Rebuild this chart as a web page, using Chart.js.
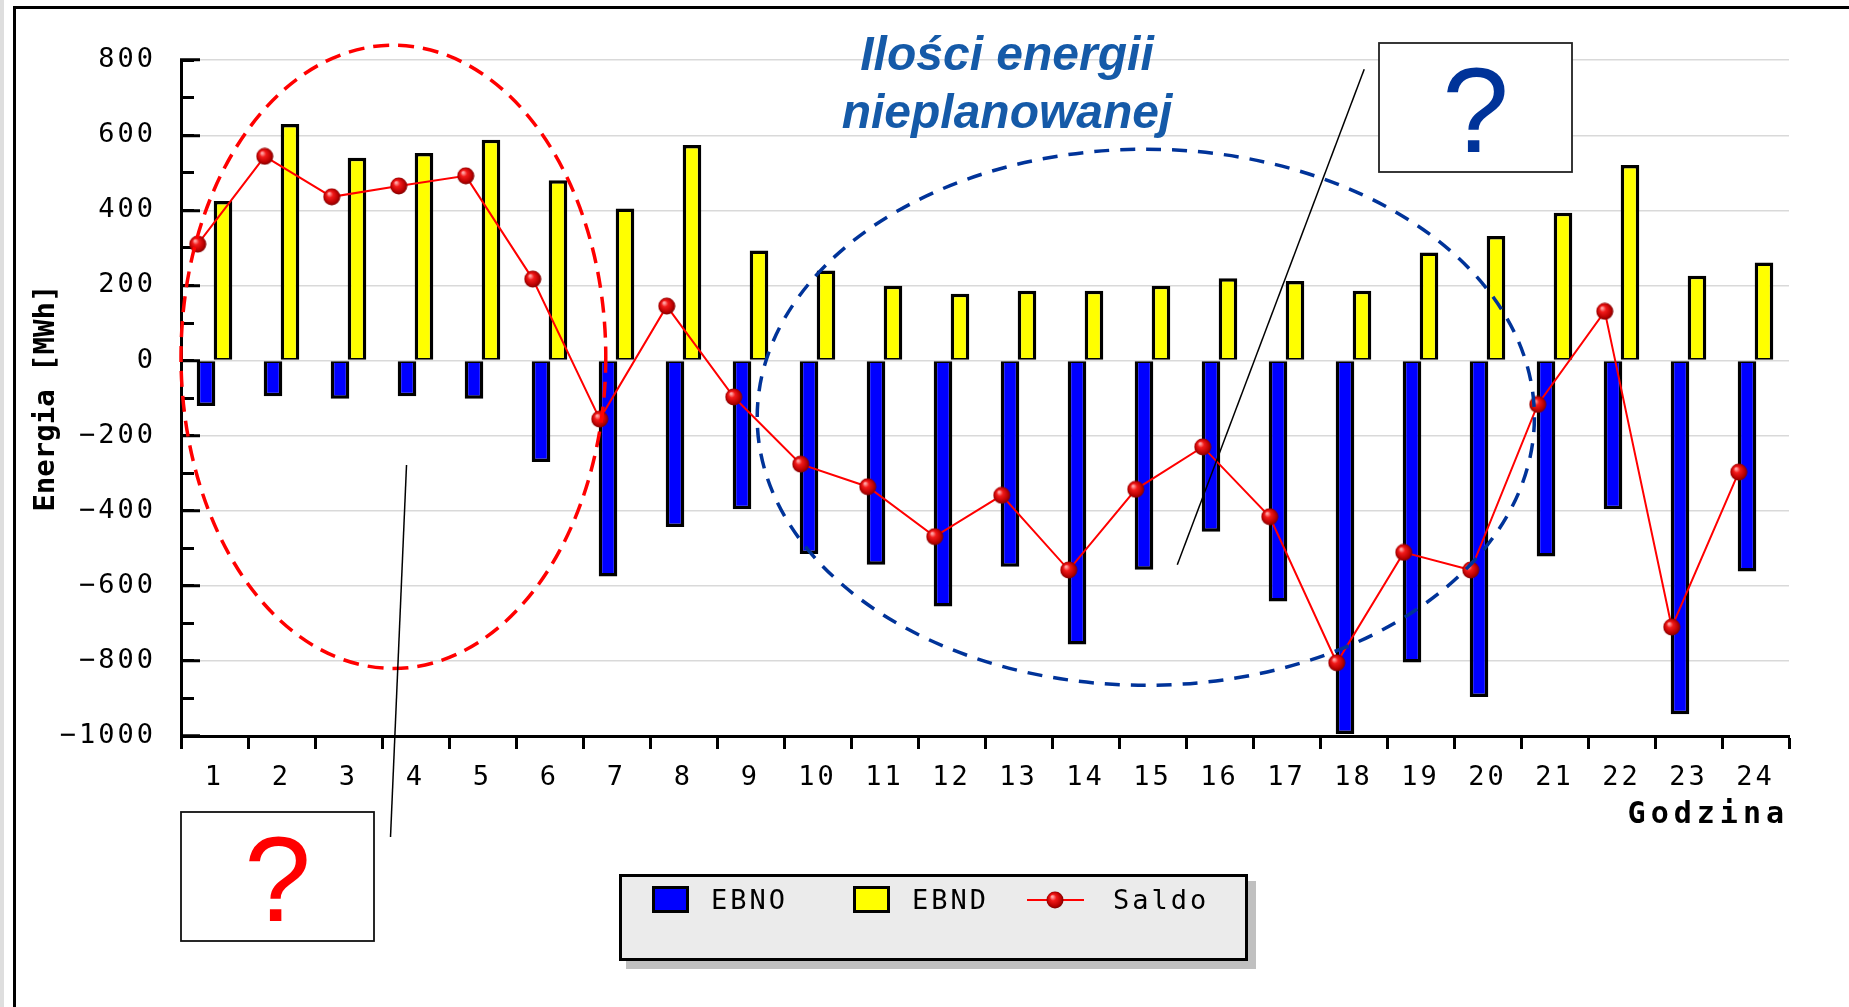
<!DOCTYPE html>
<html>
<head>
<meta charset="utf-8">
<title>Energia nieplanowana – EBNO / EBND / Saldo</title>
<script src="https://cdn.jsdelivr.net/npm/chart.js@4.4.1/dist/chart.umd.min.js"></script>
<style>
  html, body { margin: 0; padding: 0; background: #fff; overflow: hidden; }
  #wrap { position: relative; width: 1849px; height: 1007px; overflow: hidden; }
  #edge { position: absolute; left: 0; top: 0; width: 4px; height: 1007px; background: #dedede; }
  #frame { position: absolute; left: 13px; top: 6px; width: 1900px; height: 1100px;
           border-left: 3px solid #000; border-top: 3px solid #000; box-sizing: border-box; }
  #c { position: absolute; left: 0; top: 0; }
</style>
</head>
<body>
<div id="wrap">
  <div id="edge"></div>
  <div id="frame"></div>
  <canvas id="c" width="1849" height="1007"></canvas>
</div>
<script>
// Hours of the day (x categories)
const hours = [1, 2, 3, 4, 5, 6, 7, 8, 9, 10, 11, 12, 13, 14, 15, 16, 17, 18, 19, 20, 21, 22, 23, 24];

// EBNO – energy balance (negative side), MWh
const ebno = [-121, -95, -102, -95, -102, -270, -575, -443, -396, -515, -544, -655,
              -549, -756, -557, -456, -642, -995, -804, -896, -522, -396, -942, -562];

// EBND – energy balance (positive side), MWh
const ebnd = [425, 630, 540, 553, 588, 480, 405, 574, 293, 240, 199, 178,
              186, 186, 199, 219, 212, 186, 288, 332, 394, 521, 226, 261];

// Saldo – net balance per hour, MWh
const saldo = [310, 544, 436, 465, 492, 217, -156, 145, -97, -276, -336, -469,
               -359, -558, -343, -230, -416, -805, -511, -558, -117, 131, -710, -297];

// Value axis range and tick step
const yRange = [-1000, 800];
const yStep = 200;
const yMinorStep = 100;

const MONO = 'DejaVu Sans Mono';
const TEXT_SPACING = '3px';   // wide-set look of the axis and legend lettering

// Shaded red ball used as the Saldo point marker
function makeSphere(d) {
  const c = document.createElement('canvas');
  c.width = d; c.height = d;
  const g = c.getContext('2d');
  const r = d / 2;
  const grad = g.createRadialGradient(r * 0.7, r * 0.62, r * 0.08, r, r, r);
  grad.addColorStop(0, '#ffa8a8');
  grad.addColorStop(0.3, '#f21a1a');
  grad.addColorStop(0.75, '#b80000');
  grad.addColorStop(1, '#6e0000');
  g.fillStyle = grad;
  g.beginPath();
  g.arc(r, r, r - 0.5, 0, Math.PI * 2);
  g.fill();
  return c;
}
const sphere = makeSphere(18);

// Letter spacing for all axis lettering drawn by the chart
const spacing = {
  id: 'spacing',
  beforeDraw(chart) { chart.ctx.letterSpacing = TEXT_SPACING; }
};

// Saldo markers sit a quarter hour before each bar pair
const saldoShift = {
  id: 'saldoShift',
  beforeDatasetDraw(chart, args) {
    if (chart.data.datasets[args.index].type !== 'line') return;
    const ca = chart.chartArea;
    const cw = (ca.right - ca.left) / chart.data.labels.length;
    chart.ctx.save();
    chart.ctx.translate(-0.25 * cw, 0);
  },
  afterDatasetDraw(chart, args) {
    if (chart.data.datasets[args.index].type !== 'line') return;
    chart.ctx.restore();
  }
};

// Axis captions
const captions = {
  id: 'captions',
  afterDraw(chart) {
    const ctx = chart.ctx;
    const xS = chart.scales.x, yS = chart.scales.y;
    ctx.save();
    ctx.fillStyle = '#000';
    ctx.font = 'bold 30px "' + MONO + '"';
    ctx.letterSpacing = '5px';
    ctx.textAlign = 'right';
    ctx.textBaseline = 'alphabetic';
    ctx.fillText('Godzina', xS.right, xS.bottom - 5);
    ctx.restore();

    ctx.save();
    ctx.fillStyle = '#000';
    ctx.font = 'bold 29px "' + MONO + '"';
    ctx.letterSpacing = '0px';
    ctx.textAlign = 'center';
    ctx.textBaseline = 'middle';
    ctx.translate(yS.left + 46, (yS.top + yS.bottom) / 2);
    ctx.rotate(-Math.PI / 2);
    ctx.fillText('Energia [MWh]', 0, 0);
    ctx.restore();
  }
};

// Boxed legend drawn under the plot
const boxedLegend = {
  id: 'boxedLegend',
  afterDraw(chart) {
    const ctx = chart.ctx;
    const L = 619, T = 874, W = 629, H = 87;
    const itemX = [33, 234, 408];
    const textX = [92, 293, 494];
    const midY = T + 27;
    ctx.save();
    ctx.fillStyle = '#c0c0c0';
    ctx.fillRect(L + 7, T + 7, W + 1, H + 1);
    ctx.fillStyle = '#ebebeb';
    ctx.fillRect(L, T, W, H);
    ctx.lineWidth = 3;
    ctx.strokeStyle = '#000';
    ctx.strokeRect(L + 1.5, T + 1.5, W - 3, H - 3);
    ctx.font = '27px "' + MONO + '"';
    ctx.letterSpacing = TEXT_SPACING;
    ctx.textBaseline = 'middle';
    ctx.textAlign = 'left';
    chart.data.datasets.forEach((ds, i) => {
      const x0 = L + itemX[i];
      if (ds.type === 'line') {
        ctx.strokeStyle = ds.borderColor;
        ctx.lineWidth = 2;
        ctx.beginPath();
        ctx.moveTo(x0, midY - 1);
        ctx.lineTo(x0 + 57, midY - 1);
        ctx.stroke();
        ctx.drawImage(sphere, x0 + 28 - sphere.width / 2, midY - 1 - sphere.height / 2);
      } else {
        ctx.fillStyle = '#000';
        ctx.fillRect(x0, midY - 15, 37, 27);
        ctx.fillStyle = ds.backgroundColor;
        ctx.fillRect(x0 + 3, midY - 12, 31, 21);
      }
      ctx.fillStyle = '#000';
      ctx.fillText(ds.label, L + textX[i], midY + 1);
    });
    ctx.restore();
  }
};

// Highlighted regions, callouts and heading
const notes = {
  id: 'notes',
  afterDraw(chart) {
    const ctx = chart.ctx;
    const ca = chart.chartArea;
    const yS = chart.scales.y;
    const cw = (ca.right - ca.left) / hours.length;
    const X = u => ca.left + u * cw;          // u: category widths from the left edge
    const Y = v => yS.getPixelForValue(v);    // v: MWh

    function ellipse(cu, cv, ru, rv, color, dash) {
      const cx = X(cu), cy = Y(cv);
      const rx = ru * cw, ry = Math.abs(Y(cv + rv) - cy);
      ctx.save();
      ctx.strokeStyle = color;
      ctx.lineWidth = 3.5;
      ctx.setLineDash(dash);
      ctx.beginPath();
      ctx.ellipse(cx, cy, rx, ry, 0, 0, Math.PI * 2);
      ctx.stroke();
      ctx.restore();
    }
    function segment(u1, v1, u2, v2) {
      ctx.save();
      ctx.strokeStyle = '#000';
      ctx.lineWidth = 1.5;
      ctx.beginPath();
      ctx.moveTo(X(u1), Y(v1));
      ctx.lineTo(X(u2), Y(v2));
      ctx.stroke();
      ctx.restore();
    }
    function questionBox(x, y, w, h, color, border) {
      ctx.save();
      ctx.fillStyle = '#fff';
      ctx.fillRect(x, y, w, h);
      ctx.strokeStyle = border;
      ctx.lineWidth = 1.8;
      ctx.strokeRect(x, y, w, h);
      ctx.fillStyle = color;
      ctx.font = '120px "Liberation Sans"';
      ctx.letterSpacing = '0px';
      ctx.textAlign = 'center';
      ctx.textBaseline = 'alphabetic';
      ctx.fillText('?', x + w / 2, y + h - 20);
      ctx.restore();
    }

    ellipse(3.17, 10, 3.17, 830, '#ff0000', [16, 9]);
    ellipse(14.4, -151, 5.8, 714, '#003399', [15, 11]);

    segment(3.366, -278, 3.127, -1269);
    segment(17.66, 776, 14.87, -544);

    questionBox(181, 812, 193, 129, '#ff0000', '#111');
    questionBox(1379, 43, 193, 129, '#003399', '#222');

    ctx.save();
    ctx.fillStyle = '#155aa8';
    ctx.font = 'italic bold 48px "Liberation Sans"';
    ctx.letterSpacing = '0px';
    ctx.textAlign = 'center';
    ctx.textBaseline = 'alphabetic';
    ctx.fillText('Ilości energii', 1007, 70);
    ctx.fillText('nieplanowanej', 1007, 128);
    ctx.restore();
  }
};

const tickFont = { family: MONO, size: 27, lineHeight: 1.2 };

new Chart(document.getElementById('c'), {
  data: {
    labels: hours,
    datasets: [
      {
        type: 'bar', label: 'EBNO', data: ebno,
        backgroundColor: '#0000ff', borderColor: '#000',
        borderWidth: { top: 1.75, bottom: 3.5, left: 3.5, right: 3.5 }, borderSkipped: false,
        barPercentage: 1.094, categoryPercentage: 0.507,
        xAxisID: 'x', yAxisID: 'y', order: 1
      },
      {
        type: 'bar', label: 'EBND', data: ebnd,
        backgroundColor: '#ffff00', borderColor: '#000',
        borderWidth: { top: 3.5, bottom: 1.75, left: 3.5, right: 3.5 }, borderSkipped: false,
        barPercentage: 1.094, categoryPercentage: 0.507,
        xAxisID: 'x', yAxisID: 'y', order: 1
      },
      {
        type: 'line', label: 'Saldo', data: saldo,
        borderColor: '#ff0000', borderWidth: 2, fill: false, tension: 0,
        pointStyle: sphere, pointRadius: 9, pointHoverRadius: 9,
        xAxisID: 'x', yAxisID: 'y', order: 0
      }
    ]
  },
  options: {
    responsive: false,
    animation: false,
    devicePixelRatio: 1,
    layout: { padding: { left: 0, top: 58, right: 60, bottom: 179 } },
    plugins: { legend: { display: false }, tooltip: { enabled: false } },
    scales: {
      x: {
        type: 'category', position: 'bottom', offset: true,
        grid: { display: true, drawOnChartArea: false, drawTicks: true, offset: true,
                tickLength: 13, tickWidth: 3, tickColor: '#000' },
        border: { display: true, color: '#000', width: 3 },
        ticks: { color: '#000', font: tickFont, padding: 13, maxRotation: 0, autoSkip: false },
        afterFit: s => { s.height = 92; }
      },
      y: {
        type: 'linear', position: 'left', weight: 1,
        min: yRange[0], max: yRange[1],
        ticks: { stepSize: yStep, color: '#000', font: tickFont, padding: 44,
                 callback: v => String(v).replace('-', '\u2212') },
        grid: { color: '#d9d9d9', lineWidth: 1.5, drawTicks: true,
                tickLength: -19, tickWidth: 3, tickColor: '#000' },
        border: { display: true, color: '#000', width: 3 },
        afterFit: s => { s.width = 181; }
      },
      yMinor: {
        type: 'linear', position: 'left', weight: 0,
        min: yRange[0], max: yRange[1],
        ticks: { display: false, stepSize: yMinorStep },
        grid: { drawOnChartArea: false, drawTicks: true, tickLength: -13, tickWidth: 3, tickColor: '#000' },
        border: { display: false },
        afterFit: s => { s.width = 0; }
      }
    }
  },
  plugins: [spacing, saldoShift, captions, boxedLegend, notes]
});
</script>
</body>
</html>
